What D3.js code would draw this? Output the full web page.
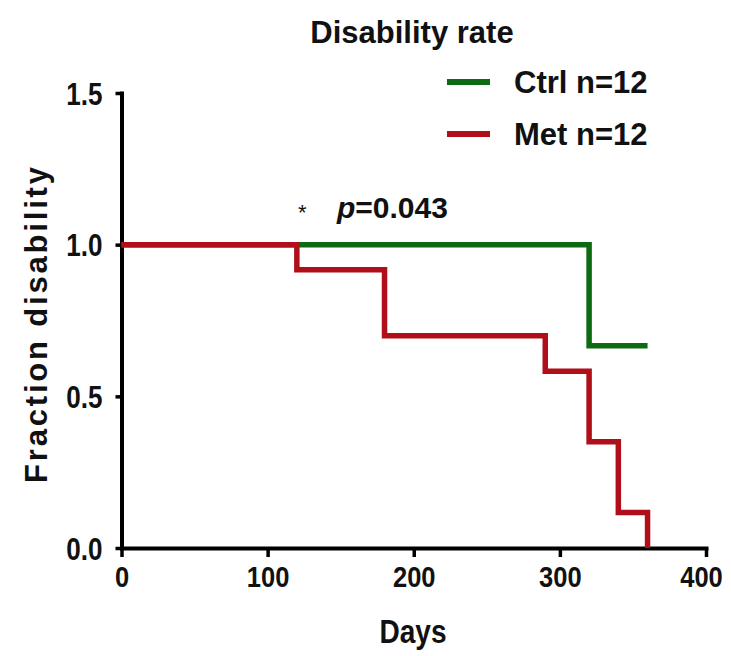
<!DOCTYPE html>
<html>
<head>
<meta charset="utf-8">
<script src="https://cdn.jsdelivr.net/npm/d3@7/dist/d3.min.js"></script>
<style>
  html, body { margin: 0; padding: 0; background: #fff; }
  svg text { font-family: "Liberation Sans", Arial, sans-serif; font-weight: bold; fill: #111; }
</style>
</head>
<body>
<svg id="chart" width="731" height="656"></svg>
<script>
// ---- data ----
const ctrlDays = [0, 320, 360];
const ctrlFraction = [1.0, 0.667, 0.667];
const metDays = [0, 120, 180, 290, 320, 340, 360];
const metFraction = [1.0, 0.917, 0.70, 0.583, 0.35, 0.117, 0.0];
const xTicks = [0, 100, 200, 300, 400];
const yTicks = [0.0, 0.5, 1.0, 1.5];
const seriesNames = ["Ctrl n=12", "Met n=12"];
const seriesColors = ["#0b6a12", "#b00f1a"];
const titleText = "Disability rate";
const xTitle = "Days";
const yTitle = "Fraction disability";
const pText = "=0.043";

const svg = d3.select("#chart");
const x = d3.scaleLinear().domain([0, 400]).range([121.5, 706]);
const y = d3.scaleLinear().domain([0, 1.5]).range([548, 93]);

function condense(sel, k) {
  sel.each(function () {
    const w = this.getComputedTextLength();
    d3.select(this).attr("textLength", w * k).attr("lengthAdjust", "spacingAndGlyphs");
  });
}

// axes
const xAxis = d3.axisBottom(x).tickValues(xTicks).tickSize(9).tickSizeOuter(0).tickPadding(14).tickFormat(d3.format("d"));
const yAxis = d3.axisLeft(y).tickValues(yTicks).tickSize(6).tickSizeOuter(0).tickPadding(13).tickFormat(d3.format(".1f"));

const gx = svg.append("g").attr("transform", `translate(0,${y(0)})`).call(xAxis);
const gy = svg.append("g").attr("transform", `translate(${x(0)},0)`).call(yAxis);
[gx, gy].forEach(g => {
  g.select(".domain").attr("stroke", "#000").attr("stroke-width", 4).attr("stroke-linecap", "square");
  g.selectAll(".tick line").attr("stroke", "#000").attr("stroke-width", 3.5);
  g.selectAll(".tick text").style("font-family", "'Liberation Sans', Arial, sans-serif").style("font-weight", "bold").attr("fill", "#111");
});
gx.selectAll(".tick text").style("font-size", "29px").attr("dy", "0.55em");
gy.selectAll(".tick text").style("font-size", "31px").attr("dy", "0.36em");
condense(gx.selectAll(".tick text"), 0.88);
condense(gy.selectAll(".tick text"), 0.84);
gx.selectAll(".tick text").filter(d => d === 400).attr("x", -5);

// step curves
const line = d3.line().x(d => x(d[0])).y(d => y(d[1])).curve(d3.curveStepAfter);
const ctrlPts = ctrlDays.map((d, i) => [d, ctrlFraction[i]]);
const metPts = metDays.map((d, i) => [d, metFraction[i]]);
svg.append("path").datum(ctrlPts).attr("d", line).attr("fill", "none")
  .attr("stroke", seriesColors[0]).attr("stroke-width", 5.5).attr("stroke-linejoin", "miter");
svg.append("path").datum(metPts).attr("d", line).attr("fill", "none")
  .attr("stroke", seriesColors[1]).attr("stroke-width", 5.5).attr("stroke-linejoin", "miter");

// title
svg.append("text").attr("x", 412).attr("y", 43).attr("text-anchor", "middle")
  .style("font-size", "31px").text(titleText);

// legend
const legY = [82, 134];
seriesNames.forEach((name, i) => {
  svg.append("line").attr("x1", 447).attr("x2", 490).attr("y1", legY[i]).attr("y2", legY[i])
    .attr("stroke", seriesColors[i]).attr("stroke-width", 6);
  svg.append("text").attr("x", 514).attr("y", legY[i] + 11).style("font-size", "31px").text(name);
});

// p-value annotation
svg.append("text").attr("x", 298).attr("y", 220).style("font-size", "22px").attr("fill", "#555").style("font-weight", "normal").text("*");
const pt = svg.append("text").attr("x", 337).attr("y", 218).style("font-size", "30px");
pt.append("tspan").style("font-style", "italic").text("p");
pt.append("tspan").text(pText);

// axis titles
const xt = svg.append("text").attr("x", 413).attr("y", 643).attr("text-anchor", "middle")
  .style("font-size", "33px").text(xTitle);
condense(xt, 0.85);
svg.append("text").attr("transform", "translate(47,325) rotate(-90)").attr("text-anchor", "middle")
  .style("font-size", "31px").attr("textLength", 316).attr("lengthAdjust", "spacing").text(yTitle);
</script>
</body>
</html>
